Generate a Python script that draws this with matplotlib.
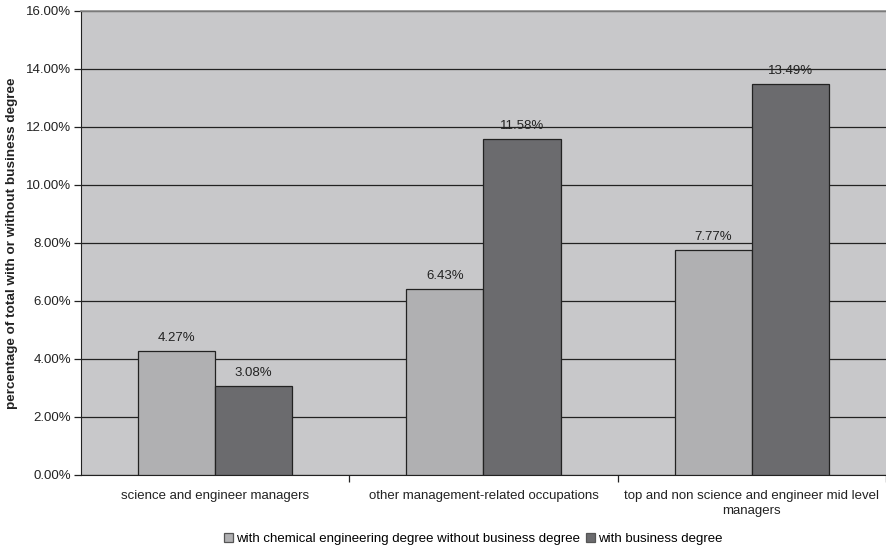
import matplotlib.pyplot as plt
import numpy as np

plt.rcParams['font.family'] = ['Liberation Sans', 'DejaVu Sans']

categories = ['science and engineer managers',
              'other management-related occupations',
              'top and non science and engineer mid level\nmanagers']
without_business = [4.27, 6.43, 7.77]
with_business = [3.08, 11.58, 13.49]
series_names = ['with chemical engineering degree without business degree',
                'with business degree']

fig = plt.figure(figsize=(8.86, 5.52), dpi=100)
ax = fig.add_axes([0.0914, 0.1395, 0.9086, 0.8406])
ax.set_facecolor('#c8c8ca')

x = np.arange(len(categories))
w = 0.287
b1 = ax.bar(x - w / 2, without_business, w, color='#b0b0b2', edgecolor='#222222',
            linewidth=0.9, label=series_names[0], zorder=3)
b2 = ax.bar(x + w / 2, with_business, w, color='#6b6b6e', edgecolor='#222222',
            linewidth=0.9, label=series_names[1], zorder=3)

for bars, vals in ((b1, without_business), (b2, with_business)):
    for r, v in zip(bars, vals):
        ax.annotate(f'{v:.2f}%', (r.get_x() + r.get_width() / 2, v),
                    xytext=(0, 5), textcoords='offset points',
                    ha='center', va='bottom', fontsize=9.5, color='#222222', zorder=4)

ax.set_xlim(-0.5, 2.5)
ax.set_ylim(0, 16)
ax.set_yticks(np.arange(0, 17, 2))
ax.set_yticklabels([f'{v:.2f}%' for v in np.arange(0, 17, 2)], fontsize=9.5, color='#222222')
ax.yaxis.grid(True, color='#222222', linewidth=0.9, zorder=1)
ax.tick_params(axis='y', length=5, width=0.9, color='#222222', pad=2)

ax.set_xticks(x)
ax.set_xticklabels(categories, fontsize=9.5, color='#222222', linespacing=1.35)
ax.tick_params(axis='x', length=0, pad=11)
ax.set_xticks([0.5, 1.5, 2.5], minor=True)
ax.tick_params(axis='x', which='minor', length=5, width=0.9, color='#222222')

ax.spines['top'].set_color('#8c8c8c')
ax.spines['top'].set_linewidth(1.2)
ax.spines['right'].set_visible(False)
ax.spines['left'].set_color('#222222')
ax.spines['bottom'].set_color('#222222')

ax.set_ylabel('percentage of total with or without business degree',
              fontsize=9.7, fontweight='bold', color='#222222', labelpad=6)

leg = fig.legend(loc='center', bbox_to_anchor=(0.534, 0.024), ncol=2, frameon=False,
                 fontsize=9.5, handlelength=0.7, handleheight=0.7,
                 handletextpad=0.2, columnspacing=0.5)
for h in leg.legend_handles:
    h.set_edgecolor('#555555')

fig.savefig('out.png', dpi=100)
